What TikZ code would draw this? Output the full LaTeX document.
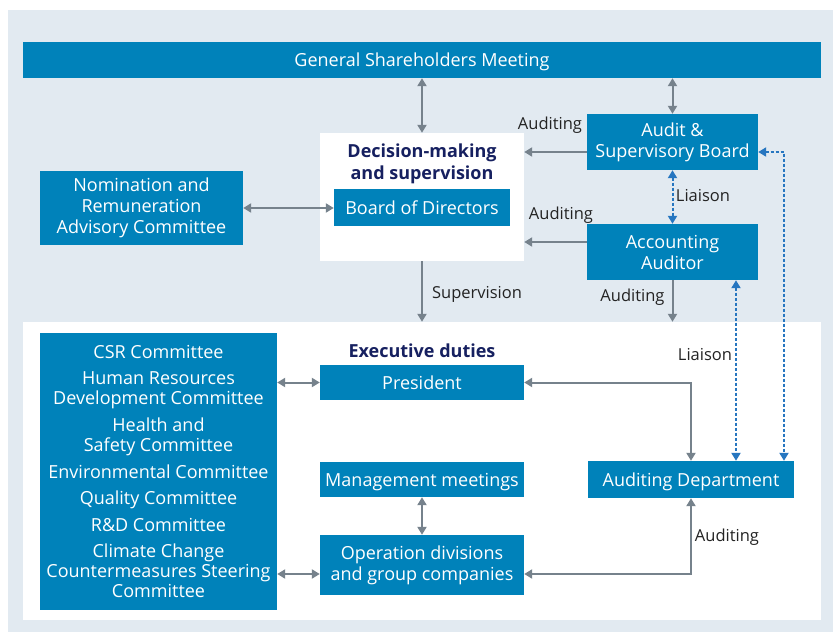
\documentclass[tikz,border=0pt]{standalone}
\usepackage{fontspec}
\setmainfont{Open Sans}
\usetikzlibrary{arrows.meta,positioning,calc}
\definecolor{orgBlue}{RGB}{0,130,186}
\definecolor{panelBlue}{RGB}{226,234,241}
\definecolor{arrowGray}{RGB}{118,130,140}
\definecolor{liaisonBlue}{RGB}{38,118,192}
\definecolor{headNavy}{RGB}{22,32,96}
\definecolor{labelBlack}{RGB}{35,35,35}

\begin{document}
\begin{tikzpicture}[x=1pt,y=-1pt,
    >={Triangle[length=8pt,width=9pt]},
    orgbox/.style={fill=orgBlue, text=white, align=center, inner sep=0pt,
        font=\fontsize{18}{21}\selectfont},
    oneline/.style={text height=13pt, text depth=0pt},
    heading/.style={text=headNavy, align=center, inner sep=0pt,
        font=\bfseries\fontsize{18}{22}\selectfont},
    lbl/.style={text=labelBlack, anchor=base, inner sep=0pt,
        font=\fontsize{16.5}{18}\selectfont},
    flow/.style={draw=arrowGray, line width=2pt},
    liaison/.style={draw=liaisonBlue, line width=2pt, dash pattern=on 3pt off 2pt, <->}]
    \useasboundingbox (0,0) rectangle (833,632);
    \fill[white] (0,0) rectangle (833,632);
    \fill[panelBlue] (8,10) rectangle (833,632);

    % supervision level
    \node[orgbox, oneline, minimum width=798, minimum height=36] (gsm) at (422,60) {General Shareholders Meeting};
    \node[fill=white, minimum width=204, minimum height=128, inner sep=0pt] (dec) at (422,197) {};
    \node[heading] (decTitle) at (422,164) {Decision-making\\and supervision};
    \node[orgbox, oneline, minimum width=176, minimum height=37] (bod) at (422,207.5) {Board of Directors};
    \node[orgbox, minimum width=203, minimum height=74] (nom) at (141.5,208) {Nomination and\\Remuneration\\Advisory Committee};
    \node[orgbox, minimum width=171, minimum height=56] (asb) at (672.5,142) {Audit \&\\Supervisory Board};
    \node[orgbox, minimum width=171, minimum height=56] (acc) at (672.5,252) {Accounting\\Auditor};

    % execution level
    \node[fill=white, minimum width=798, minimum height=298, inner sep=0pt] (execpanel) at (422,471) {};
    \node[heading] (execTitle) at (422,351) {Executive duties};
    \node[orgbox, minimum width=237, minimum height=277, font=\fontsize{18}{20}\selectfont] (cmte) at (158.5,471.5)
        {CSR Committee\\[6.6pt]Human Resources\\Development Committee\\[6.6pt]Health and\\Safety Committee\\[6.6pt]Environmental Committee\\[6.6pt]Quality Committee\\[6.6pt]R\&D Committee\\[6.6pt]Climate Change\\Countermeasures Steering\\Committee};
    \node[orgbox, oneline, minimum width=204, minimum height=35] (pres) at (422,382.5) {President};
    \node[orgbox, oneline, minimum width=204, minimum height=35] (mgmt) at (422,479.5) {Management meetings};
    \node[orgbox, minimum width=204, minimum height=60] (ops) at (422,565) {Operation divisions\\and group companies};
    \node[orgbox, oneline, minimum width=206, minimum height=37] (aud) at (691,479.5) {Auditing Department};

    % connectors
    \draw[flow,<->] (gsm.south) -- (dec.north);
    \draw[flow,<->] (gsm.south -| asb.north) -- (asb.north);
    \draw[flow,->] ([yshift=-10pt]asb.west) -- ([yshift=-10pt]asb.west -| dec.east);
    \draw[flow,->] ([yshift=10pt]acc.west) -- ([yshift=10pt]acc.west -| dec.east);
    \draw[flow,<->] (nom.east) -- (nom.east -| bod.west);
    \draw[liaison] (asb.south) -- (acc.north);
    \draw[flow,->] (dec.south) -- (dec.south |- execpanel.north);
    \draw[flow,->] (acc.south) -- (acc.south |- execpanel.north);
    \draw[flow,<->] (pres.west -| cmte.east) -- (pres.west);
    \draw[flow,<->] ([yshift=-9pt]ops.west -| cmte.east) -- ([yshift=-9pt]ops.west);
    \draw[flow,<->] (mgmt.south) -- (ops.north);
    \draw[flow,<->] (pres.east) -| (aud.north);
    \draw[flow,<->] (aud.south) |- ([yshift=-9pt]ops.east);
    \draw[liaison] ([xshift=63.5pt]acc.south) -- ([xshift=63.5pt]acc.south |- aud.north);
    \draw[liaison] ([yshift=-10pt]asb.east) -| ([xshift=93pt]aud.north);

    % connector labels
    \node[lbl] (audA) at (550,129) {Auditing};
    \node[lbl] (audB) at (561,219) {Auditing};
    \node[lbl] (liaA) at (703,201.5) {Liaison};
    \node[lbl] (sup) at (477,298) {Supervision};
    \node[lbl] (audC) at (632.5,301.5) {Auditing};
    \node[lbl] (liaB) at (705,360.5) {Liaison};
    \node[lbl] (audD) at (727,541.5) {Auditing};
\end{tikzpicture}
\end{document}
